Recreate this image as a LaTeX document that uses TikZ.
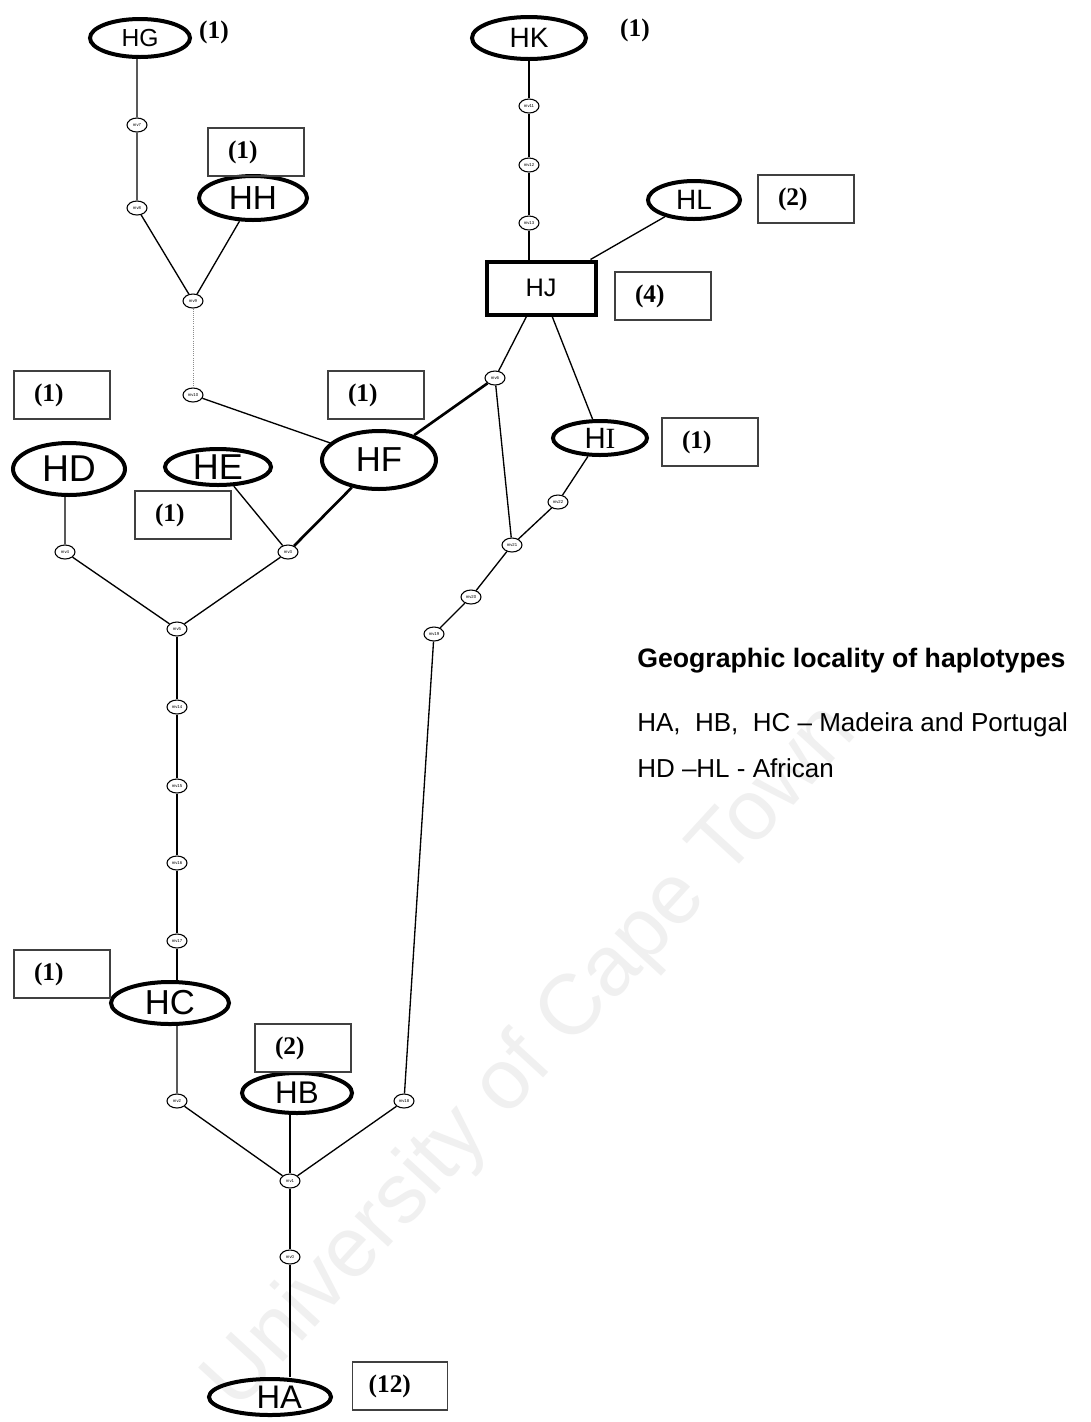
\documentclass[tikz,border=0pt]{standalone}
\usepackage{fontspec}
\setmainfont{Liberation Serif}
\setsansfont{Liberation Sans}
\usetikzlibrary{shapes.geometric,calc}
\newcommand\fsz[1]{\fontsize{#1}{#1}\selectfont}
\begin{document}
\begin{tikzpicture}[x=0.75pt,y=-0.75pt,
  ell/.style 2 args={ellipse,draw,line width=3pt,minimum width=#1*0.75pt,minimum height=#2*0.75pt,inner sep=0pt,font=\sffamily},
  mv/.style={ellipse,draw,line width=0.8pt,minimum width=15pt,minimum height=10.5pt,inner sep=0pt,font=\sffamily\fsz{3.2}},
  cbox/.style={draw=black!75,line width=1pt,minimum height=36pt,text width=42pt,inner xsep=15pt,align=left,font=\bfseries\fsz{19}},
  cnt/.style={font=\bfseries\fsz{19}},
  lnk/.style={line width=1pt},
  hvy/.style={line width=2pt},
]
\fill[white] (0,0) rectangle (1090,1422);
\useasboundingbox (0,0) rectangle (1090,1422);

% watermark
\node[rotate=47.5,font=\sffamily\fsz{64},text=black!6] (wm) at (532,1058) {University of Cape Town};

% top-left group
\node[ell={100}{38},font=\sffamily\fsz{18.5}] (HG) at (140,38) {HG};
\node[cnt] (cG) at (214,32) {(1)};
\node[mv] (m7) at (137,125) {mv7};
\node[mv] (m8) at (137,208) {mv8};
\node[ell={108}{44},font=\sffamily\fsz{25}] (HH) at (253,198) {HH};
\node[cbox] (bH) at (256,152) {(1)};
\node[mv] (m9) at (193,301) {mv9};
\node[mv] (m10) at (193,395) {mv10};

% middle-left group
\node[cbox] (bD) at (62,395) {(1)};
\node[cbox] (bF) at (376,395) {(1)};
\node[ell={112}{52},font=\sffamily\fsz{28}] (HD) at (69,469) {HD};
\node[ell={106}{36},font=\sffamily\fsz{27}] (HE) at (218,467) {HE};
\node[cbox] (bE) at (183,515) {(1)};
\node[ell={114}{58},font=\sffamily\fsz{26}] (HF) at (379,460) {HF};
\node[mv] (m4) at (65,552) {mv4};
\node[mv] (m3) at (288,552) {mv3};
\node[mv] (m5) at (177,629) {mv5};
\node[mv] (m14) at (177,707) {mv14};
\node[mv] (m15) at (177,786) {mv15};
\node[mv] (m16) at (177,863) {mv16};
\node[mv] (m17) at (177,941) {mv17};

% bottom group
\node[ell={118}{42},font=\sffamily\fsz{26}] (HC) at (170,1003) {HC};
\node[cbox] (bC) at (62,974) {(1)};
\node[mv] (m2) at (177,1101) {mv2};
\node[ell={110}{40},font=\sffamily\fsz{23.5}] (HB) at (297,1093) {HB};
\node[cbox] (bB) at (303,1048) {(2)};
\node[mv] (m18) at (404,1101) {mv18};
\node[mv] (m1) at (290,1181) {mv1};
\node[mv] (m0) at (290,1257) {mv0};
\node[ell={122}{36},font=\sffamily\fsz{24.5}] (HA) at (270,1397) {\hspace*{14pt}HA};
\node[cbox,inner xsep=12pt,text width=47pt] (bA) at (400,1386) {(12)};

% right group
\node[mv] (m19) at (434,634) {mv19};
\node[mv] (m20) at (471,597) {mv20};
\node[mv] (m21) at (512,545) {mv21};
\node[mv] (m22) at (558,502) {mv22};
\node[ell={94}{34},font=\sffamily\fsz{22}] (HI) at (600,438) {H{\rmfamily I}};
\node[cbox] (bI) at (710,442) {(1)};
\node[ell={114}{42},font=\sffamily\fsz{21}] (HK) at (529,38) {HK};
\node[cnt] (cK) at (635,30) {(1)};
\node[mv] (m11) at (529,106) {mv11};
\node[mv] (m12) at (529,165) {mv12};
\node[mv] (m13) at (529,223) {mv13};
\node[draw,line width=3pt,minimum width=81.75pt,minimum height=39.75pt,inner sep=0pt,font=\sffamily\fsz{19}] (HJ) at (541,288) {HJ};
\node[ell={92}{38},font=\sffamily\fsz{21}] (HL) at (694,200) {HL};
\node[cbox] (bL) at (806,199) {(2)};
\node[cbox] (bJ) at (663,296) {(4)};
\node[mv] (m6) at (495,378) {mv6};

% legend
\node[anchor=base west,inner sep=0pt,font=\sffamily\bfseries\fsz{20}] (lg) at (637,667) {Geographic locality of haplotypes};
\node[anchor=base west,inner sep=0pt,font=\sffamily\fsz{19.5}] (l1) at (637,731) {HA,\ \ HB,\ \ HC – Madeira and Portugal};
\node[anchor=base west,inner sep=0pt,font=\sffamily\fsz{19.5}] (l2) at (637,777) {HD –HL - African};

% connectors
\draw[lnk] (HG.south -| m7) -- (m7) -- (m8) -- (m9);
\draw[lnk] (HH) -- (m9);
\draw[line width=0.6pt,black!45,densely dotted] (m9) -- (m10);
\draw[lnk] (m10) -- (HF);
\draw[lnk] (HD.south -| m4) -- (m4) -- (m5) -- (m3);
\draw[lnk] (HE) -- (m3);
\draw[hvy] (HF) -- (m3);
\draw[lnk] (m5) -- (m14) -- (m15) -- (m16) -- (m17) -- (HC.north -| m17);
\draw[lnk] (HC.south -| m2) -- (m2) -- (m1);
\draw[lnk] (HB.south -| m1) -- (m1);
\draw[lnk] (m18) -- (m1);
\draw[lnk] (m1) -- (m0) -- (HA.north -| m0);
\draw[lnk] (m18) -- (m19) -- (m20) -- (m21) -- (m22) -- (HI);
\draw[lnk] (m21) -- (m6);
\draw[hvy] (m6) -- (HF);
\draw[lnk] (HJ) -- (m6);
\draw[lnk] (HJ) -- (HI);
\draw[lnk] (HK.south -| m11) -- (m11) -- (m12) -- (m13) -- (HJ.north -| m13);
\draw[lnk] (HL) -- (HJ);
\end{tikzpicture}
\end{document}
